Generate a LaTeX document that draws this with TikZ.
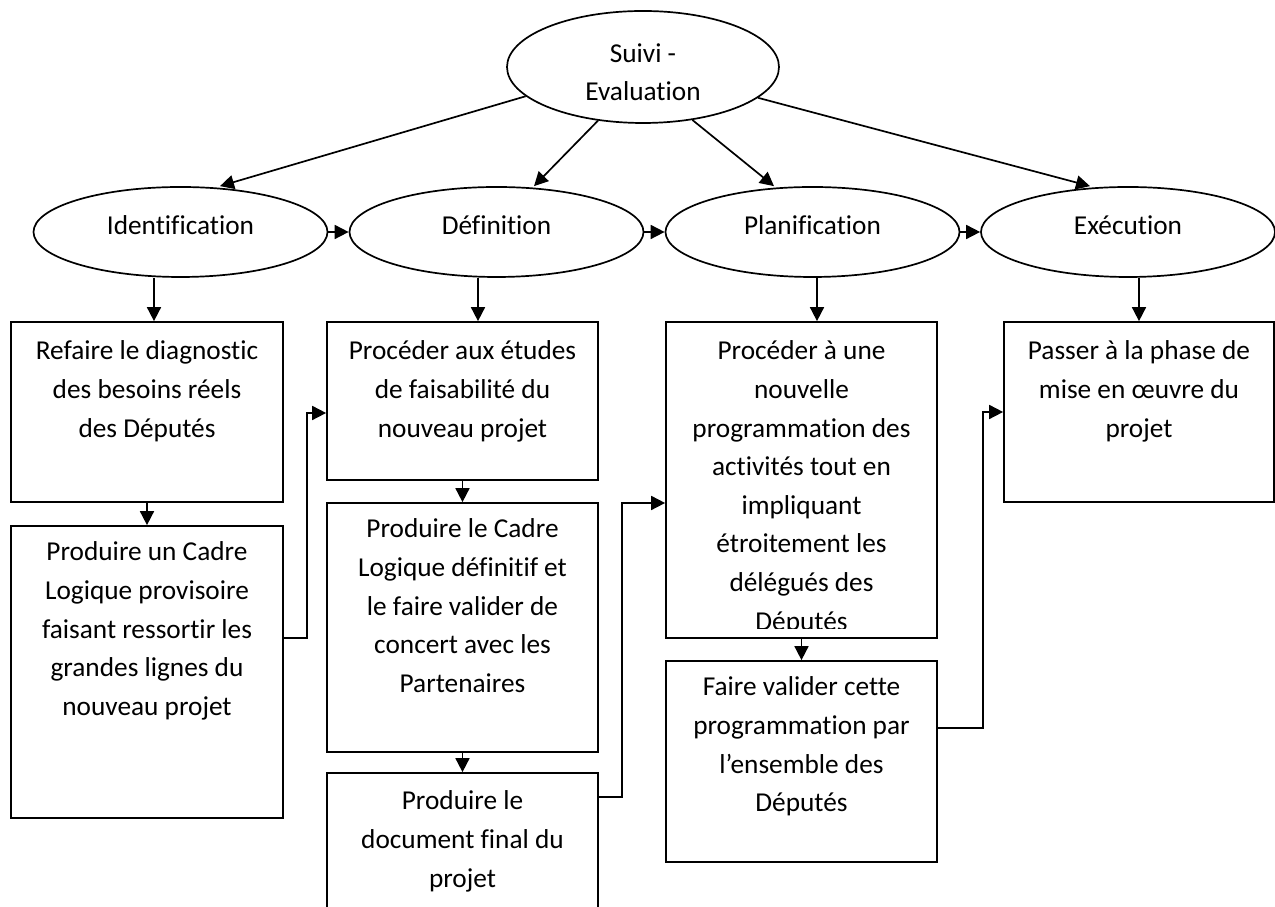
\documentclass[tikz,border=0pt]{standalone}
\usepackage{fontspec}
\setmainfont{Carlito}[Ligatures=CommonOff]
\usetikzlibrary{arrows.meta,shapes.geometric}
\begin{document}
\begin{tikzpicture}[x=1pt,y=1pt,
  ell/.style={ellipse,draw,line width=1.7pt,inner sep=0pt,minimum width=294pt,minimum height=90pt},
  box/.style={rectangle,draw,line width=1.7pt,inner sep=0pt},
  txt/.style={anchor=north,align=center,inner sep=0pt,font=\fontsize{27.3}{38.6}\selectfont},
  lbl/.style={anchor=base,inner sep=0pt,font=\fontsize{27.3}{38.6}\selectfont},
  arr/.style={line width=1.7pt,-{Triangle[length=14pt,width=14pt]}}]
\useasboundingbox (0,0) rectangle (1275,907);
\clip (0,0) rectangle (1275,907);
% ellipses
\node[ell,minimum width=272pt,minimum height=112pt] (sv) at (643,840) {};
\node[ell] (id) at (180.5,675) {};
\node[ell] (de) at (496.5,675) {};
\node[ell] (pl) at (812.5,675) {};
\node[ell] (ex) at (1128,675) {};
\node[txt] (tsv) at ([yshift=32pt]sv.center) {\strut Suivi -\\Evaluation};
\node[lbl] (tid) at ([yshift=-3pt]id.center) {Identification};
\node[lbl] (tde) at ([yshift=-3pt]de.center) {Définition};
\node[lbl] (tpl) at ([yshift=-3pt]pl.center) {Planification};
\node[lbl] (tex) at ([yshift=-3pt]ex.center) {Exécution};
% boxes
\node[box,minimum width=272pt,minimum height=180pt] (b1) at (147,495) {};
\node[box,minimum width=272pt,minimum height=292pt] (b2) at (147,235) {};
\node[box,minimum width=271pt,minimum height=158pt] (d1) at (462.5,506) {};
\node[box,minimum width=271pt,minimum height=249pt] (d2) at (462.5,279.5) {};
\node[box,minimum width=271pt,minimum height=168pt] (d3) at (462.5,50) {};
\node[box,minimum width=271pt,minimum height=316pt] (p1) at (801.5,427) {};
\node[box,minimum width=271pt,minimum height=201pt] (p2) at (801.5,145.5) {};
\node[box,minimum width=270pt,minimum height=180pt] (e1) at (1139,495) {};
% box texts
\node[txt] (tb1) at ([yshift=-11.5pt]b1.north) {\strut Refaire le diagnostic\\des besoins réels\\des Députés};
\node[txt] (tb2) at ([yshift=-8.5pt]b2.north) {\strut Produire un Cadre\\Logique provisoire\\faisant ressortir les\\grandes lignes du\\nouveau projet};
\node[txt] (td1) at ([yshift=-11.5pt]d1.north) {\strut Procéder aux études\\de faisabilité du\\nouveau projet};
\node[txt] (td2) at ([yshift=-8.5pt]d2.north) {\strut Produire le Cadre\\Logique définitif et\\le faire valider de\\concert avec les\\Partenaires};
\node[txt] (td3) at ([yshift=-10.5pt]d3.north) {\strut Produire le\\document final du\\projet};
\begin{scope}
\clip (p1.north west) rectangle ([yshift=10pt]p1.south east);
\node[txt] (tp1) at ([yshift=-11.5pt]p1.north) {\strut Procéder à une\\nouvelle\\programmation des\\activités tout en\\impliquant\\étroitement les\\délégués des\\Députés};
\end{scope}
\node[txt] (tp2) at ([yshift=-8.5pt]p2.north) {\strut Faire valider cette\\programmation par\\l’ensemble des\\Députés};
\node[txt] (te1) at ([yshift=-11.5pt]e1.north) {\strut Passer à la phase de\\mise en œuvre du\\projet};
% arrows from top ellipse
\draw[arr] (sv.194.9) -- ([xshift=39.5pt]id.north);
\draw[arr] (sv.230.3) -- ([xshift=37.5pt]de.north);
\draw[arr] (sv.313.9) -- ([xshift=-38.5pt]pl.north);
\draw[arr] (sv.345.4) -- ([xshift=-38pt]ex.north);
% between ellipses
\draw[arr] (id.east) -- (de.west);
\draw[arr] (de.east) -- (pl.west);
\draw[arr] (pl.east) -- (ex.west);
% down arrows
\draw[arr] ([xshift=-26.5pt]id.south) -- ([xshift=-26.5pt]id.south |- b1.north);
\draw[arr] ([xshift=-18.5pt]de.south) -- ([xshift=-18.5pt]de.south |- d1.north);
\draw[arr] ([xshift=4.5pt]pl.south) -- ([xshift=4.5pt]pl.south |- p1.north);
\draw[arr] ([xshift=11pt]ex.south) -- ([xshift=11pt]ex.south |- e1.north);
\draw[arr] (b1.south) -- (b2.north);
\draw[arr] (d1.south) -- (d2.north);
\draw[arr] (d2.south) -- (d3.north);
\draw[arr] (p1.south) -- (p2.north);
% elbow connectors
\draw[arr] ([yshift=34pt]b2.east) -- ++(23,0) |- ([yshift=-12pt]d1.west);
\draw[arr] ([yshift=60pt]d3.east) -- ++(23,0) |- ([yshift=-23pt]p1.west);
\draw[arr] ([yshift=33.5pt]p2.east) -- ++(45,0) |- (e1.west);
\end{tikzpicture}
\end{document}
